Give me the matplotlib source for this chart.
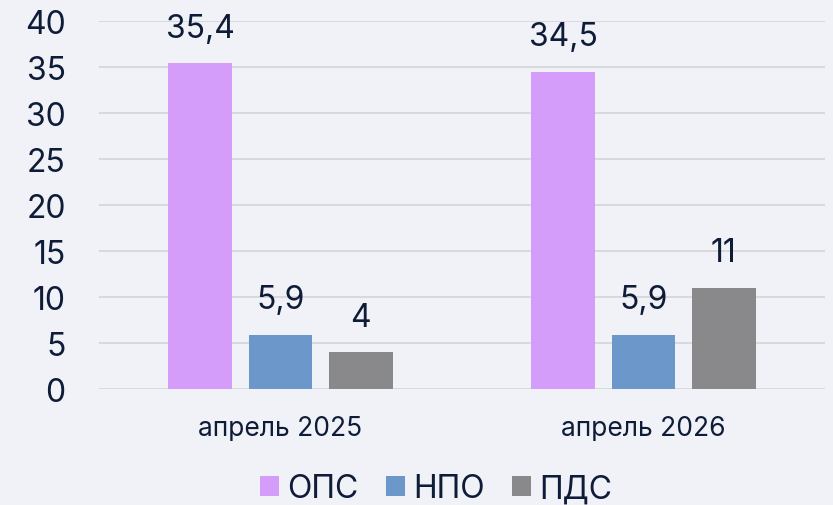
import numpy as np
import matplotlib
matplotlib.use("Agg")
import matplotlib.pyplot as plt

# Data
categories = ["апрель 2025", "апрель 2026"]
series_names = ["ОПС", "НПО", "ПДС"]
ops = [35.4, 34.5]
npo = [5.9, 5.9]
pds = [4, 11]
labels_ops = ["35,4", "34,5"]
labels_npo = ["5,9", "5,9"]
labels_pds = ["4", "11"]
y_ticks = [0, 5, 10, 15, 20, 25, 30, 35, 40]

colors = ["#d59dfa", "#6b97cb", "#89898c"]
text_color = "#0e1c38"
bg = "#f0f2f8"

plt.rcParams['font.family'] = ['Inter', 'DejaVu Sans']

fig = plt.figure(figsize=(8.33, 5.06), dpi=100, facecolor=bg)
ax = fig.add_axes([99 / 833, 116 / 506, 726 / 833, 368 / 506])
ax.set_facecolor(bg)

x = np.arange(len(categories))
step = 0.2204
width = 0.1763

values = [ops, npo, pds]
texts = [labels_ops, labels_npo, labels_pds]
for i, (vals, lbls) in enumerate(zip(values, texts)):
    bars = ax.bar(x + (i - 1) * step, vals, width, color=colors[i],
                  label=series_names[i], zorder=2)
    ax.bar_label(bars, labels=lbls, padding=14, fontsize=23, color=text_color)

ax.set_xlim(-0.5, 1.5)
ax.set_ylim(0, 40)
ax.set_yticks(y_ticks)
ax.set_xticks(x)
ax.set_xticklabels(categories)
ax.tick_params(axis='x', length=0, pad=19, labelsize=19, labelcolor=text_color)
ax.tick_params(axis='y', length=0, pad=24, labelsize=23, labelcolor=text_color)

ax.grid(axis='y', color="#d3d4d8", linewidth=1.2, zorder=1)
ax.set_axisbelow(True)
for s in ax.spines.values():
    s.set_visible(False)

leg = fig.legend(loc='center', bbox_to_anchor=(436 / 833, 1 - 490 / 506),
                 ncol=3, frameon=False, fontsize=23, handlelength=0.6,
                 handleheight=0.6, handletextpad=0.25, columnspacing=0.85,
                 labelcolor=text_color)

fig.savefig("out.png", dpi=100, facecolor=bg)
